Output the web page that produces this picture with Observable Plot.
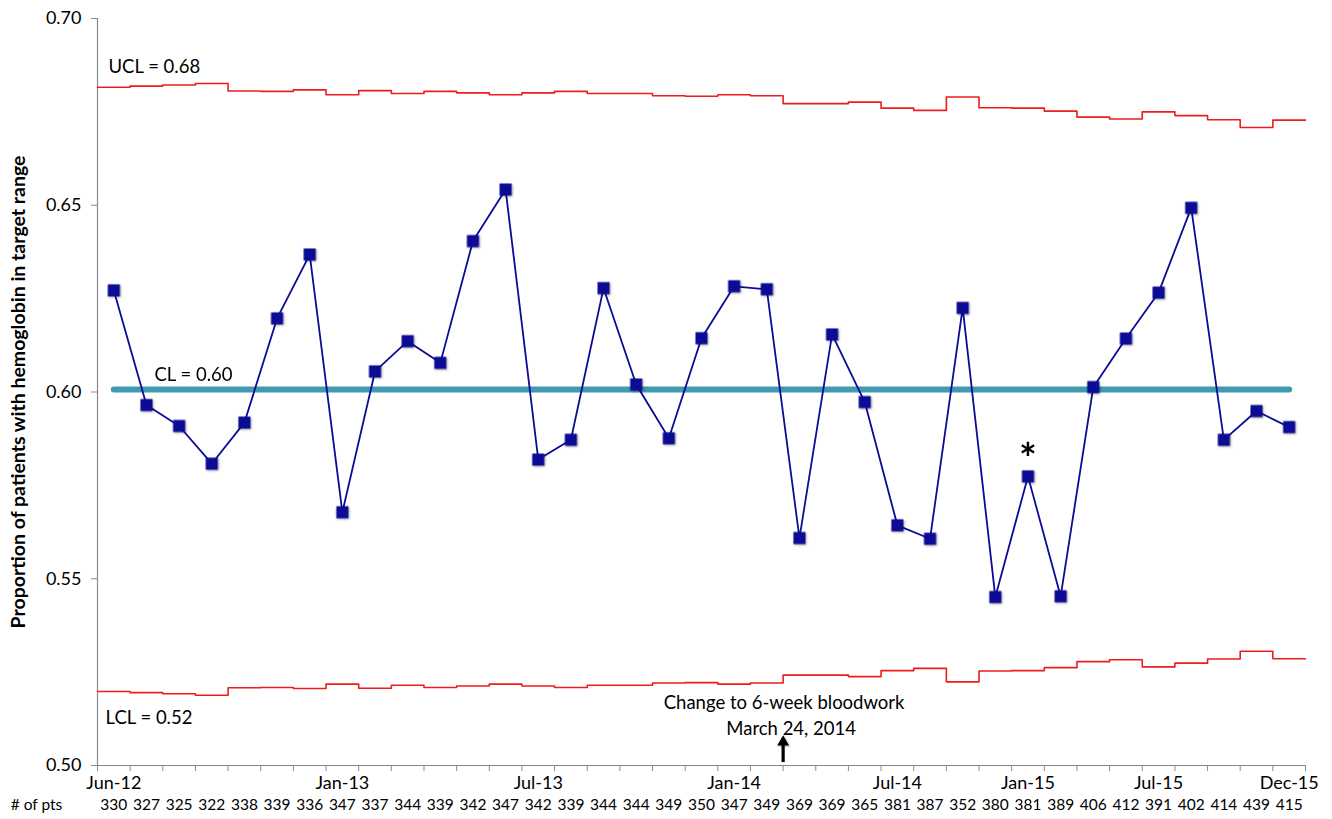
<!DOCTYPE html>
<html>
<head>
<meta charset="utf-8">
<script src="https://cdn.jsdelivr.net/npm/d3@7"></script>
<script src="https://cdn.jsdelivr.net/npm/@observablehq/plot@0.6"></script>
<style>
  html, body { margin: 0; padding: 0; background: #fff; }
  #chart svg { display: block; }
</style>
</head>
<body>
<div id="chart"></div>
<script>
// ---- Data ----
const tickLabels = ["Jun-12", "Jan-13", "Jul-13", "Jan-14", "Jul-14", "Jan-15", "Jul-15", "Dec-15"];
const tickIndex  = [0, 7, 13, 19, 24, 28, 32, 36];

const nPts = [330, 327, 325, 322, 338, 339, 336, 347, 337, 344, 339, 342, 347, 342, 339, 344, 344, 349, 350,
              347, 349, 369, 369, 365, 381, 387, 352, 380, 381, 389, 406, 412, 391, 402, 414, 439, 415];

const proportion = [0.6272, 0.5965, 0.5909, 0.5808, 0.5918, 0.6197, 0.6368, 0.5678, 0.6055, 0.6136, 0.6078,
                    0.6404, 0.6542, 0.5819, 0.5872, 0.6278, 0.6020, 0.5876, 0.6144, 0.6283, 0.6275, 0.5609,
                    0.6154, 0.5973, 0.5643, 0.5607, 0.6225, 0.5451, 0.5774, 0.5453, 0.6013, 0.6143, 0.6266,
                    0.6493, 0.5872, 0.5949, 0.5906];

const ucl = [0.6816, 0.6819, 0.6822, 0.6826, 0.6806, 0.6805, 0.6809, 0.6796, 0.6807, 0.6799, 0.6805,
             0.6801, 0.6796, 0.6801, 0.6805, 0.6799, 0.6799, 0.6793, 0.6792, 0.6796, 0.6793, 0.6772,
             0.6772, 0.6776, 0.6760, 0.6754, 0.6790, 0.6761, 0.6760, 0.6752, 0.6736, 0.6731, 0.6750,
             0.6740, 0.6729, 0.6708, 0.6728];

const lcl = [0.5198, 0.5195, 0.5192, 0.5188, 0.5208, 0.5209, 0.5206, 0.5218, 0.5207, 0.5215, 0.5209,
             0.5213, 0.5218, 0.5213, 0.5209, 0.5215, 0.5215, 0.5221, 0.5222, 0.5218, 0.5221, 0.5242,
             0.5242, 0.5238, 0.5254, 0.5260, 0.5224, 0.5253, 0.5254, 0.5262, 0.5278, 0.5283, 0.5264,
             0.5274, 0.5285, 0.5306, 0.5286];

const centerLine = 0.6007;
const yTicks = [0.50, 0.55, 0.60, 0.65, 0.70];

const yTitle = "Proportion of patients with hemoglobin in target range";

// annotations (text, data position)
const annotations = [
  {text: "UCL = 0.68", x: -0.5, y: 0.6869, dx: 11, anchor: "start"},
  {text: "CL = 0.60", x: -0.5, y: 0.6044, dx: 57, anchor: "start"},
  {text: "LCL = 0.52", x: -0.5, y: 0.5126, dx: 8, anchor: "start"},
  {text: "Change to 6-week bloodwork", x: 20.5, y: 0.5166, dx: 1, anchor: "middle"},
  {text: "March 24, 2014", x: 20.5, y: 0.5097, dx: 8, anchor: "middle"}
];
const changeIndex = 20.5;   // between Feb-14 and Mar-14 samples
const flaggedIndex = 28;    // asterisk point

// ---- Derived tables ----
const points = proportion.map((p, i) => ({i, p}));
const stepTable = (arr) => arr.map((v, i) => ({x: i - 0.5, y: v})).concat([{x: arr.length - 0.5, y: arr[arr.length - 1]}]);
const uclSteps = stepTable(ucl);
const lclSteps = stepTable(lcl);
const edges = d3.range(proportion.length + 1).map(i => i - 0.5);
const nTable = nPts.map((n, i) => ({i, n}));
const xTicks = tickLabels.map((t, k) => ({label: t, i: tickIndex[k]}));

const FONT = "Lato, 'Open Sans', sans-serif";
const NAVY = "#0b0b96";
const RED = "#ee1c1c";
const TEAL = "#3f9bb2";
const GRAY = "#8a8a8a";

const chart = Plot.plot({
  width: 1332,
  height: 819,
  marginLeft: 97,
  marginRight: 27,
  marginTop: 18,
  marginBottom: 54,
  style: {fontFamily: FONT, fontSize: "16px", color: "#000", background: "#fff", overflow: "visible"},
  x: {domain: [-0.5, proportion.length - 0.5], axis: null},
  y: {domain: [0.5, 0.7], axis: null},
  marks: [
    // axes
    Plot.axisY({ticks: yTicks, tickFormat: d3.format(".2f"), tickSize: 6, tickPadding: 10,
                stroke: GRAY, fill: "#000", fontSize: 18, label: null}),
    Plot.axisX({ticks: edges, tickFormat: () => "", tickSize: 6, stroke: GRAY, label: null}),
    Plot.ruleX([-0.5], {stroke: GRAY, strokeWidth: 1.2}),
    Plot.ruleY([0.5], {stroke: GRAY, strokeWidth: 1.2}),

    // control limits
    Plot.line(uclSteps, {x: "x", y: "y", curve: "step-after", stroke: RED, strokeWidth: 1.6}),
    Plot.line(lclSteps, {x: "x", y: "y", curve: "step-after", stroke: RED, strokeWidth: 1.6}),

    // center line
    Plot.line([{x: 0, y: centerLine}, {x: proportion.length - 1, y: centerLine}],
              {x: "x", y: "y", stroke: TEAL, strokeWidth: 6, strokeLinecap: "round"}),

    // series
    Plot.line(points, {x: "i", y: "p", stroke: NAVY, strokeWidth: 1.8}),
    Plot.dot(points, {x: "i", y: "p", symbol: "square", r: 6.8, fill: NAVY, stroke: "none"}),

    // asterisk
    Plot.text([proportion[flaggedIndex]], {x: () => flaggedIndex, y: d => d, text: () => "*",
              dy: -16, fontSize: 42, fontWeight: "bold", lineAnchor: "middle"}),

    // annotations
    ...annotations.map(a => Plot.text([a], {x: "x", y: "y", text: "text", dx: a.dx, textAnchor: a.anchor,
              fontSize: 18.5, fill: "#000"})),

    // arrow
    Plot.ruleX([changeIndex], {x: d => d, y1: 0.5008, y2: 0.5058, stroke: "#000", strokeWidth: 3.2}),
    Plot.dot([changeIndex], {x: d => d, y: 0.5063, symbol: "triangle", r: 4.4, fill: "#000"}),

    // x tick labels
    Plot.text(xTicks, {x: "i", text: "label", frameAnchor: "bottom", dy: 23, fontSize: 18, fill: "#000"}),
    // # of pts
    Plot.text(nTable, {x: "i", text: d => String(d.n), frameAnchor: "bottom", dy: 44, fontSize: 15.5, fill: "#000"}),
    Plot.text(["# of pts"], {x: -0.5, frameAnchor: "bottom", dx: -61, dy: 44, fontSize: 15.5, fill: "#000"}),

    // y title
    Plot.text([yTitle], {frameAnchor: "left", dx: -79, rotate: -90, textAnchor: "middle",
              fontSize: 19.5, fontWeight: "bold", fill: "#000"})
  ]
});

d3.select(chart).selectAll("g[aria-label='dot']").style("filter", "drop-shadow(1px 1.5px 1px rgba(0,0,0,0.35))");
document.getElementById("chart").appendChild(chart);
</script>
</body>
</html>
